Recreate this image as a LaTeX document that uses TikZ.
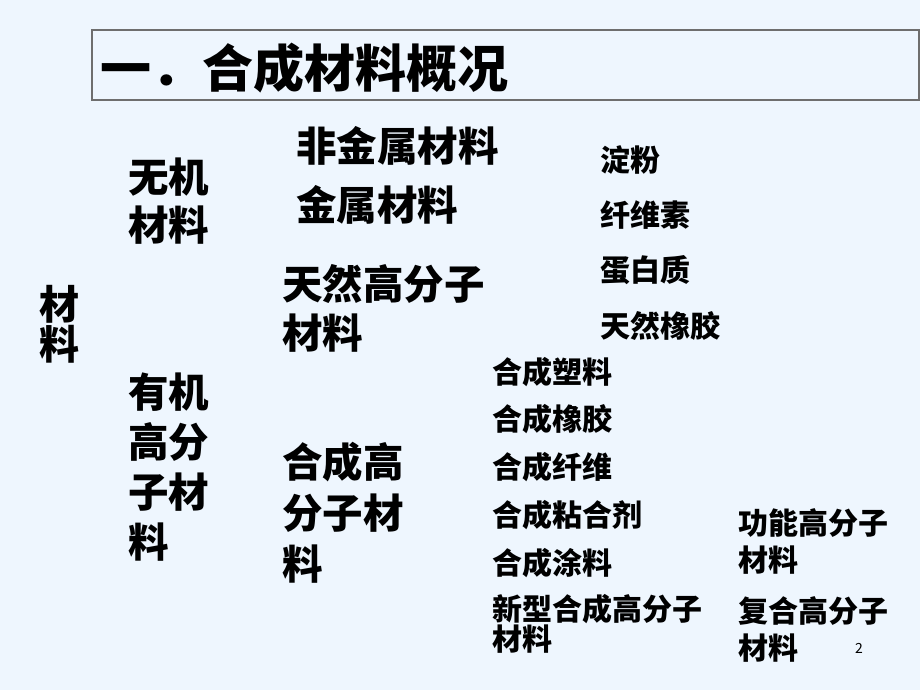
\documentclass[tikz,border=0pt]{standalone}
\usepackage{fontspec}
\usepackage{tikz}
\newfontfamily\cjk{Noto Sans CJK SC}
\definecolor{slidebg}{RGB}{238,246,254}
\definecolor{boxline}{RGB}{110,110,110}
\tikzset{
  txt/.style={anchor=west, inner sep=0pt, align=left, text=black},
  bigtxt/.style={txt, font=\cjk\bfseries\fontsize{40.5}{49}\selectfont},
  smalltxt/.style={txt, font=\cjk\bfseries\fontsize{30}{37}\selectfont},
  titletxt/.style={txt, font=\cjk\bfseries\fontsize{51}{60}\selectfont}
}
\begin{document}
\begin{tikzpicture}[x=1pt, y=-1pt]
        \fill[slidebg] (0,0) rectangle (920,690);
        \useasboundingbox (0,0) rectangle (920,690);
        % title
        \draw[boxline, line width=1.5pt] (92,30) rectangle (919,100);
        \node[titletxt] (title) at (100,68) {一．合成材料概况};
        % column 1
        \node[bigtxt, font=\cjk\bfseries\fontsize{40}{40}\selectfont] (cailiao) at (39,324) {材\\料};
        % column 2
        \node[bigtxt, font=\cjk\bfseries\fontsize{40.5}{48}\selectfont] (wuji) at (128,201) {无机\\材料};
        \node[bigtxt, font=\cjk\bfseries\fontsize{40.5}{50}\selectfont] (youji) at (128,467) {有机\\高分\\子材\\料};
        % column 3
        \node[bigtxt] (feijinshu) at (296,146) {非金属材料};
        \node[bigtxt] (jinshu) at (296,205) {金属材料};
        \node[bigtxt] (tianran) at (282,308) {天然高分子\\材料};
        \node[bigtxt, font=\cjk\bfseries\fontsize{40.5}{51}\selectfont] (hecheng) at (282,513) {合成高\\分子材\\料};
        % column 4
        \node[smalltxt] (dianfen) at (600,160) {淀粉};
        \node[smalltxt] (xianweisu) at (600,215) {纤维素};
        \node[smalltxt] (danbaizhi) at (600,270) {蛋白质};
        \node[smalltxt] (xiangjiao) at (600,326) {天然橡胶};
        \node[smalltxt] (suliao) at (492,372) {合成塑料};
        \node[smalltxt] (hcxiangjiao) at (492,419) {合成橡胶};
        \node[smalltxt] (xianwei) at (492,467) {合成纤维};
        \node[smalltxt] (nianheji) at (492,515) {合成粘合剂};
        \node[smalltxt] (tuliao) at (492,563) {合成涂料};
        \node[smalltxt, font=\cjk\bfseries\fontsize{30}{28}\selectfont] (xinxing) at (492,624) {新型合成高分子\\材料};
        % column 5
        \node[smalltxt] (gongneng) at (738,541) {功能高分子\\材料};
        \node[smalltxt] (fuhe) at (738,629) {复合高分子\\材料};
        % page number
        \node[txt, font=\cjk\fontsize{14}{16}\selectfont] (page) at (855,648) {2};
\end{tikzpicture}
\end{document}
